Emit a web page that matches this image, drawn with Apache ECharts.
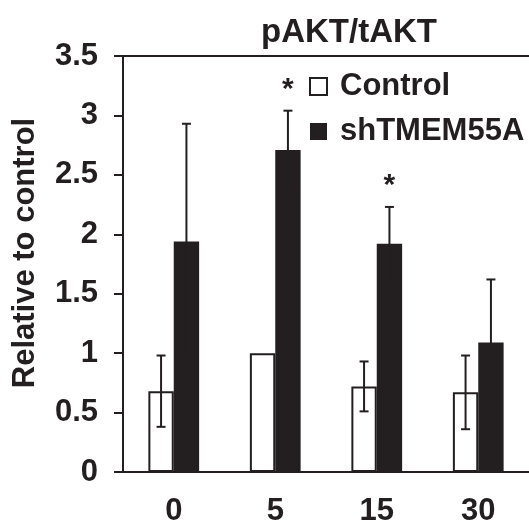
<!DOCTYPE html>
<html>
<head>
<meta charset="utf-8">
<script src="https://cdn.jsdelivr.net/npm/echarts@6/dist/echarts.min.js"></script>
<style>
  html, body { margin: 0; padding: 0; background: #fff; }
  #chart { width: 529px; height: 521px; }
</style>
</head>
<body>
<div id="chart"></div>
<script>
// Time points (minutes) and pAKT/tAKT ratios relative to control
var categories = ['0', '5', '15', '30'];
var controlMean = [0.68, 1.0, 0.72, 0.67];
var controlErr = [0.30, 0, 0.21, 0.31];
var shMean = [1.94, 2.71, 1.92, 1.09];
var shErr = [0.99, 0.33, 0.31, 0.53];
var significance = ['', '*', '*', ''];
var yTicks = [0, 0.5, 1, 1.5, 2, 2.5, 3, 3.5];

var INK = '#231f20';
var FONT = '"Liberation Sans", Arial, sans-serif';

// Build [categoryIndex, mean, err, seriesSlot, mark] rows for the error-bar overlay
function errorRows(means, errs, slot, marks) {
  return means.map(function (m, i) {
    return [i, m, errs[i], slot, marks ? marks[i] : ''];
  });
}

function renderErrorBar(params, api) {
  var idx = api.value(0);
  var mean = api.value(1);
  var err = api.value(2);
  var slot = api.value(3);
  var mark = api.value(4);
  var band = api.size([1, 0])[0];
  var barW = band * 0.25;
  var center = api.coord([idx, mean]);
  var x = center[0] + (slot === 0 ? -barW / 2 : barW / 2);
  var children = [];
  if (err > 0) {
    var top = api.coord([idx, mean + err])[1];
    var bot = api.coord([idx, mean - err])[1];
    var cap = 4.5;
    var style = { stroke: INK, lineWidth: 2 };
    children.push(
      { type: 'line', shape: { x1: x, y1: top, x2: x, y2: bot }, style: style },
      { type: 'line', shape: { x1: x - cap, y1: top, x2: x + cap, y2: top }, style: style },
      { type: 'line', shape: { x1: x - cap, y1: bot, x2: x + cap, y2: bot }, style: style }
    );
    if (mark) {
      children.push({
        type: 'text',
        style: {
          text: mark, x: x, y: top - 6,
          align: 'center', verticalAlign: 'bottom',
          fill: INK, font: 'bold 30px ' + FONT
        }
      });
    }
  }
  return { type: 'group', children: children };
}

var chart = echarts.init(document.getElementById('chart'));
chart.setOption({
  animation: false,
  backgroundColor: '#fff',
  title: {
    text: 'pAKT/tAKT',
    left: 344,
    textAlign: 'center',
    top: 11,
    textStyle: { fontFamily: FONT, fontWeight: 'bold', fontSize: 33, color: INK }
  },
  legend: {
    orient: 'vertical',
    left: 304,
    top: 66,
    itemWidth: 17,
    itemHeight: 17,
    itemGap: 14,
    icon: 'rect',
    data: ['Control', 'shTMEM55A'],
    textStyle: { fontFamily: FONT, fontWeight: 'bold', fontSize: 31, color: INK, padding: [0, 0, 0, 8] }
  },
  grid: { left: 123, right: 0, top: 56, bottom: 49, containLabel: false, outerBoundsMode: 'none' },
  xAxis: [{
    type: 'category',
    data: categories,
    axisLine: { show: true, lineStyle: { color: INK, width: 2 } },
    axisTick: { show: false },
    axisLabel: { margin: 24, fontFamily: FONT, fontWeight: 'bold', fontSize: 31, color: INK }
  }, {
    type: 'category',
    position: 'top',
    data: categories,
    axisLine: { show: true, lineStyle: { color: INK, width: 2 } },
    axisTick: { show: false },
    axisLabel: { show: false }
  }],
  yAxis: {
    type: 'value',
    min: yTicks[0],
    max: yTicks[yTicks.length - 1],
    interval: 0.5,
    name: 'Relative to control',
    nameLocation: 'middle',
    nameGap: 82,
    nameTextStyle: { fontFamily: FONT, fontWeight: 'bold', fontSize: 31, color: INK, padding: [0, 0, 0, 22] },
    axisLine: { show: true, lineStyle: { color: INK, width: 2 } },
    axisTick: { show: true, inside: false, length: 9, lineStyle: { color: INK, width: 2 } },
    axisLabel: { margin: 25, fontFamily: FONT, fontWeight: 'bold', fontSize: 31, color: INK },
    splitLine: { show: false }
  },
  series: [{
    name: 'Control',
    type: 'bar',
    data: controlMean,
    barGap: '0%',
    barCategoryGap: '50%',
    itemStyle: { color: '#fff', borderColor: INK, borderWidth: 2 }
  }, {
    name: 'shTMEM55A',
    type: 'bar',
    data: shMean,
    barGap: '0%',
    barCategoryGap: '50%',
    itemStyle: { color: INK }
  }, {
    type: 'custom',
    renderItem: renderErrorBar,
    data: errorRows(controlMean, controlErr, 0),
    z: 5,
    silent: true
  }, {
    type: 'custom',
    renderItem: renderErrorBar,
    data: errorRows(shMean, shErr, 1, significance),
    z: 5,
    silent: true
  }]
});
</script>
</body>
</html>
